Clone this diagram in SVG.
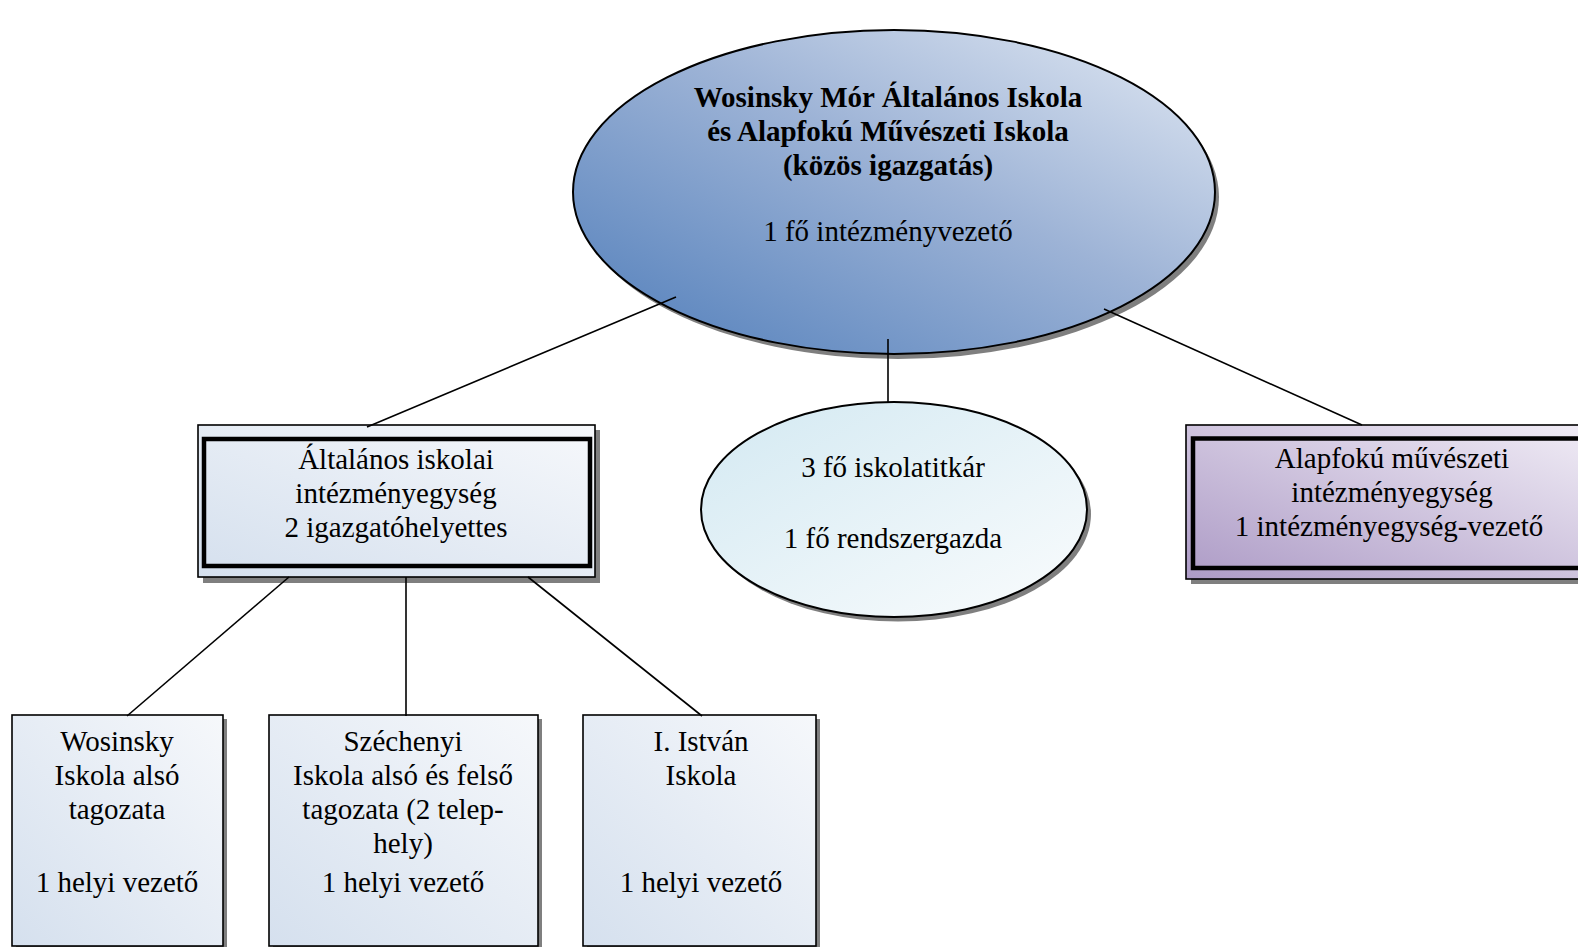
<svg xmlns="http://www.w3.org/2000/svg" width="1578" height="947" viewBox="0 0 1578 947">
<defs>
<linearGradient id="gBig" x1="0" y1="1" x2="1" y2="0">
<stop offset="0" stop-color="#4f7dba"/>
<stop offset="0.55" stop-color="#9db3d6"/>
<stop offset="1" stop-color="#e3eaf4"/>
</linearGradient>
<linearGradient id="gBox" x1="0" y1="1" x2="1" y2="0">
<stop offset="0" stop-color="#d5e0ee"/>
<stop offset="1" stop-color="#f6f8fb"/>
</linearGradient>
<linearGradient id="gSmall" x1="0" y1="0" x2="1" y2="1">
<stop offset="0" stop-color="#d3e9f2"/>
<stop offset="1" stop-color="#fafcfd"/>
</linearGradient>
<linearGradient id="gPurple" x1="0" y1="1" x2="1" y2="0">
<stop offset="0" stop-color="#ad9bc6"/>
<stop offset="1" stop-color="#f1edf6"/>
</linearGradient>
</defs>
<style>
text{font-family:"Liberation Serif","Times New Roman",serif;font-size:29px;fill:#000;text-anchor:middle}
.b{font-weight:bold}
.sh{fill:#7f7f7f}
.thin{stroke:#000;stroke-width:1.6}
.thick{fill:none;stroke:#000;stroke-width:4.5}
.con{stroke:#000;stroke-width:1.6;fill:none}
</style>
<rect width="1578" height="947" fill="#fff"/>

<g id="top">
<ellipse class="sh" cx="898" cy="197" rx="321" ry="162"/>
<ellipse cx="894" cy="192" rx="321" ry="162" fill="url(#gBig)" stroke="#000" stroke-width="2"/>
<text class="b" x="888" y="107">Wosinsky Mór Általános Iskola</text>
<text class="b" x="888" y="141">és Alapfokú Művészeti Iskola</text>
<text class="b" x="888" y="175">(közös igazgatás)</text>
<text x="888" y="241">1 fő intézményvezető</text>
</g>

<g id="altalanos">
<rect class="sh" x="203" y="430" width="397" height="153"/>
<rect class="thin" x="198" y="425" width="397" height="152" fill="url(#gBox)"/>
<rect class="thick" x="204" y="439" width="386" height="127"/>
<text x="396" y="469">Általános iskolai</text>
<text x="396" y="503">intézményegység</text>
<text x="396" y="537">2 igazgatóhelyettes</text>
</g>

<g id="titkar">
<ellipse class="sh" cx="898" cy="514" rx="193" ry="107.5"/>
<ellipse cx="894" cy="509.5" rx="193" ry="107.5" fill="url(#gSmall)" stroke="#000" stroke-width="2"/>
<text x="893" y="477">3 fő iskolatitkár</text>
<text x="893" y="548">1 fő rendszergazda</text>
</g>

<g id="alapfoku">
<rect class="sh" x="1191" y="430" width="410" height="154"/>
<rect class="thin" x="1186" y="425" width="410" height="154" fill="url(#gPurple)"/>
<rect class="thick" x="1193" y="438.5" width="395" height="129.5"/>
<text x="1392" y="468">Alapfokú művészeti</text>
<text x="1392" y="502">intézményegység</text>
<text x="1389" y="536">1 intézményegység-vezető</text>
</g>

<g id="wosinsky">
<rect class="sh" x="16" y="719" width="211" height="240"/>
<rect class="thin" x="12" y="715" width="211" height="231" fill="url(#gBox)"/>
<text x="117" y="751">Wosinsky</text>
<text x="117" y="785">Iskola alsó</text>
<text x="117" y="819">tagozata</text>
<text x="117" y="892">1 helyi vezető</text>
</g>

<g id="szechenyi">
<rect class="sh" x="273" y="719" width="269" height="240"/>
<rect class="thin" x="269" y="715" width="269" height="231" fill="url(#gBox)"/>
<text x="403" y="751">Széchenyi</text>
<text x="403" y="785">Iskola alsó és felső</text>
<text x="403" y="819">tagozata (2 telep-</text>
<text x="403" y="853">hely)</text>
<text x="403" y="892">1 helyi vezető</text>
</g>

<g id="istvan">
<rect class="sh" x="587" y="719" width="233" height="240"/>
<rect class="thin" x="583" y="715" width="233" height="231" fill="url(#gBox)"/>
<text x="701" y="751">I. István</text>
<text x="701" y="785">Iskola</text>
<text x="701" y="892">1 helyi vezető</text>
</g>

<g id="connectors">
<line class="con" x1="676" y1="297" x2="367" y2="427"/>
<line class="con" x1="888" y1="339" x2="888" y2="402"/>
<line class="con" x1="1104" y1="309" x2="1362" y2="425"/>
<line class="con" x1="289" y1="577" x2="127" y2="716"/>
<line class="con" x1="406" y1="577" x2="406" y2="716"/>
<line class="con" x1="528" y1="577" x2="702" y2="716"/>
</g>
</svg>
